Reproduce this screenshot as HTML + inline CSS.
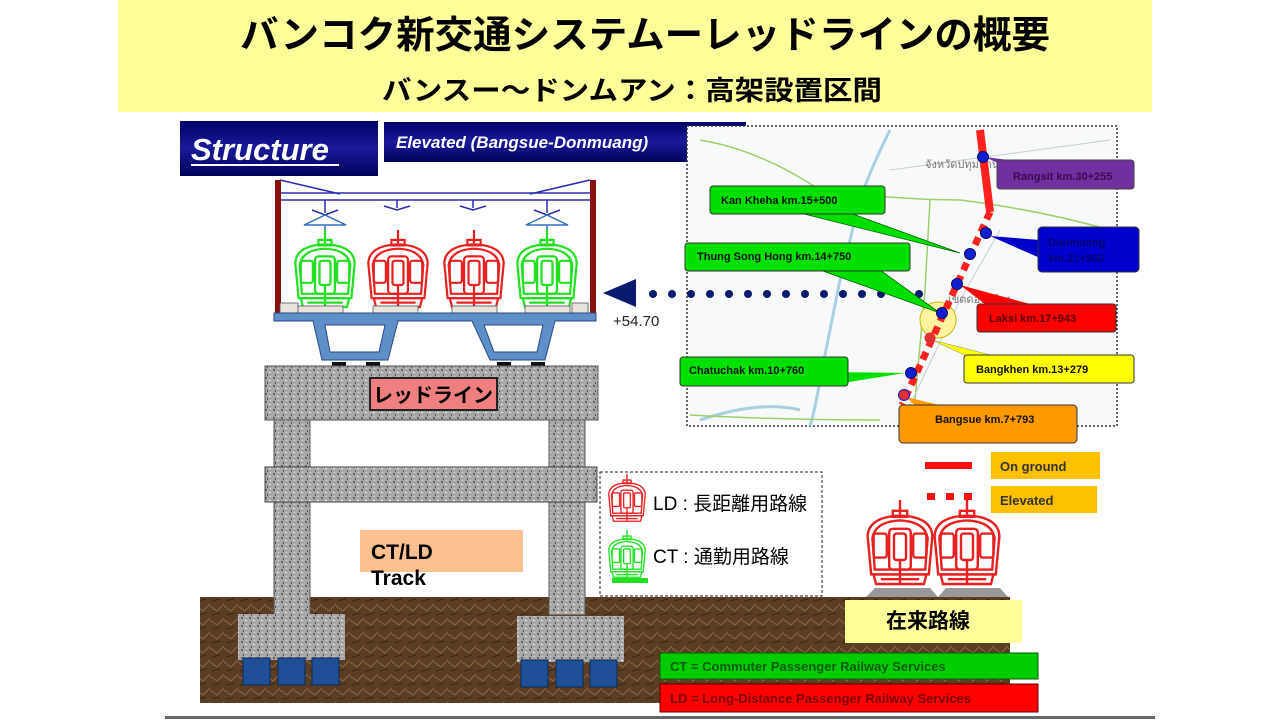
<!DOCTYPE html>
<html><head><meta charset="utf-8"><style>
html,body{margin:0;padding:0;background:#fff;}
svg{display:block;}
text{font-family:"Liberation Sans","Noto Sans CJK JP",sans-serif;}
</style></head><body>
<svg width="1280" height="720" viewBox="0 0 1280 720" xmlns="http://www.w3.org/2000/svg">
<defs>
<symbol id="tr" viewBox="0 0 60 80">
 <g fill="none" stroke-width="2">
  <line x1="30" y1="0" x2="30" y2="12"/>
  <rect x="24" y="9" width="12" height="5"/>
  <path d="M6 62 L3 30 Q4 14 30 13 Q56 14 57 30 L54 62 Z"/>
  <path d="M9 58 L7 32 Q9 18 30 17 Q51 18 53 32 L51 58 Z"/>
  <rect x="8" y="28" width="11" height="20" rx="2"/>
  <rect x="41" y="28" width="11" height="20" rx="2"/>
  <rect x="21" y="24" width="18" height="34" rx="3"/>
  <rect x="25" y="28" width="10" height="22" rx="2"/>
  <line x1="30" y1="50" x2="30" y2="70"/>
  <path d="M8 62 L52 62 L50 70 L10 70 Z"/>
  <line x1="14" y1="66" x2="46" y2="66"/>
 </g>
</symbol>
<pattern id="gran" width="8" height="8" patternUnits="userSpaceOnUse">
 <rect width="8" height="8" fill="#a8a8a8"/>
 <rect x="1" y="1" width="2" height="2" fill="#666"/>
 <rect x="5" y="4" width="2" height="1" fill="#eee"/>
 <rect x="3" y="6" width="1" height="2" fill="#555"/>
 <rect x="6" y="0" width="1" height="1" fill="#ddd"/>
</pattern>
<pattern id="soil" width="14" height="14" patternUnits="userSpaceOnUse">
 <rect width="14" height="14" fill="#5a3d22"/>
 <path d="M0 4 L7 9 L14 2" stroke="#8a6a48" stroke-width="1" fill="none"/>
 <path d="M2 13 L10 11" stroke="#3a2512" stroke-width="1"/>
</pattern>
<linearGradient id="nav" x1="0" y1="0" x2="0" y2="1">
 <stop offset="0" stop-color="#00006a"/><stop offset="0.5" stop-color="#1a1a9a"/><stop offset="1" stop-color="#00005a"/>
</linearGradient>
</defs>

<rect x="118" y="0" width="1034" height="112" fill="#ffff99"/>
<text x="645" y="48" font-size="38" font-weight="bold" text-anchor="middle" textLength="810" lengthAdjust="spacingAndGlyphs">バンコク新交通システムーレッドラインの概要</text>
<text x="632" y="100" font-size="27" font-weight="bold" text-anchor="middle" textLength="500" lengthAdjust="spacingAndGlyphs">バンスー～ドンムアン：高架設置区間</text>

<rect x="180" y="121" width="198" height="55" fill="url(#nav)"/>
<text x="191" y="160" font-size="31" font-weight="bold" font-style="italic" fill="#fff">Structure</text>
<rect x="191" y="164" width="148" height="2" fill="#fff"/>
<rect x="384" y="122" width="362" height="40" fill="url(#nav)"/>
<text x="396" y="148" font-size="17" font-weight="bold" font-style="italic" fill="#fff">Elevated (Bangsue-Donmuang)</text>

<rect x="687" y="126" width="430" height="300" fill="#f8fafa" stroke="#333" stroke-width="1.5" stroke-dasharray="2,2"/>
<g fill="none" stroke="#a9d0e0" stroke-width="3">
 <path d="M890 130 Q870 170 860 200 Q850 240 840 280 Q830 330 820 380 Q815 410 810 426"/>
 <path d="M700 420 Q760 400 800 410"/>
</g>
<g fill="none" stroke="#9ccf6a" stroke-width="1.5">
 <path d="M700 140 Q760 150 820 190 Q900 200 960 200 Q1040 210 1110 230"/>
 <path d="M930 200 L925 290 L915 400"/>
 <path d="M690 415 Q780 420 880 420"/>
</g>
<g stroke="#c8ccd0" stroke-width="1" fill="none">
 <path d="M890 170 L1110 140"/><path d="M900 426 L960 300 L1000 230"/>
</g>
<text x="925" y="168" font-size="11" fill="#777">จังหวัดปทุมธานี</text>
<text x="948" y="303" font-size="11" fill="#777">เขตดอนเมือง</text>
<polygon points="603,293 636,279 636,307" fill="#0a1a6e"/>
<g fill="#0a1a6e">
 <circle cx="653" cy="294" r="4"/><circle cx="672" cy="294" r="4"/><circle cx="691" cy="294" r="4"/><circle cx="710" cy="294" r="4"/><circle cx="729" cy="294" r="4"/><circle cx="748" cy="294" r="4"/><circle cx="767" cy="294" r="4"/><circle cx="786" cy="294" r="4"/><circle cx="805" cy="294" r="4"/><circle cx="824" cy="294" r="4"/><circle cx="843" cy="294" r="4"/><circle cx="862" cy="294" r="4"/><circle cx="881" cy="294" r="4"/><circle cx="900" cy="294" r="4"/><circle cx="919" cy="294" r="4"/>
</g>
<text x="613" y="326" font-size="15" fill="#222">+54.70</text>
<circle cx="938" cy="320" r="18" fill="#fff5a0" stroke="#c8b800" stroke-width="1"/>
<polygon points="800,213 850,213 960,253" fill="#00e000" stroke="#006000" stroke-width="0.8"/>
<polygon points="820,270 880,270 940,313" fill="#00e000" stroke="#006000" stroke-width="0.8"/>
<polygon points="830,372 830,385 905,373" fill="#00e000"/>
<polygon points="1000,164 1040,164 985,157" fill="#7030a0"/>
<polygon points="1040,240 1040,258 990,236" fill="#0000cc"/>
<polygon points="985,304 1030,304 960,285" fill="#ff0000"/>
<polygon points="975,360 1010,360 932,340" fill="#ffff00" stroke="#888" stroke-width="0.5"/>
<polygon points="920,410 960,410 906,397" fill="#ff9900"/>
<line x1="980" y1="130" x2="990" y2="212" stroke="#ff2020" stroke-width="8"/>
<line x1="990" y1="212" x2="902" y2="405" stroke="#ff2020" stroke-width="7" stroke-dasharray="8,6"/>
<g fill="#1020d0" stroke="#0a0a60" stroke-width="1">
 <circle cx="983" cy="157" r="5.5"/><circle cx="986" cy="233" r="5.5"/><circle cx="970" cy="254" r="5.5"/><circle cx="957" cy="284" r="5.5"/><circle cx="942" cy="313" r="5.5"/><circle cx="911" cy="373" r="5.5"/>
</g>
<circle cx="930" cy="338" r="5.5" fill="#e03030"/><circle cx="904" cy="395" r="5.5" fill="#e03030" stroke="#1020d0"/>
<g font-size="11" font-weight="bold">
<rect x="997" y="160" width="137" height="29" rx="3" fill="#7030a0" stroke="#444"/><text x="1013" y="180" fill="#3a0a50">Rangsit km.30+255</text>
<rect x="710" y="186" width="175" height="28" rx="3" fill="#00e000" stroke="#333"/><text x="721" y="204" fill="#111">Kan Kheha km.15+500</text>
<rect x="1038" y="227" width="101" height="45" rx="4" fill="#0000cc" stroke="#333"/><text x="1048" y="246" fill="#00006a">Donmuang</text><text x="1048" y="262" fill="#00006a">km.21+500</text>
<rect x="685" y="243" width="225" height="28" rx="3" fill="#00e000" stroke="#333"/><text x="697" y="260" fill="#111">Thung Song Hong km.14+750</text>
<rect x="977" y="304" width="139" height="28" rx="3" fill="#ff0000" stroke="#333"/><text x="989" y="322" fill="#500">Laksi  km.17+943</text>
<rect x="964" y="355" width="170" height="28" rx="3" fill="#ffff00" stroke="#333"/><text x="976" y="373" fill="#111">Bangkhen km.13+279</text>
<rect x="680" y="357" width="168" height="29" rx="3" fill="#00e000" stroke="#333"/><text x="689" y="374" fill="#111">Chatuchak km.10+760</text>
<rect x="899" y="405" width="178" height="38" rx="4" fill="#ff9900" stroke="#333"/><text x="935" y="423" fill="#111">Bangsue km.7+793</text>
</g>

<rect x="925" y="462" width="47" height="7" fill="#ff1010"/>
<rect x="927" y="493" width="8" height="7" fill="#ff1010"/><rect x="946" y="493" width="8" height="7" fill="#ff1010"/><rect x="964" y="493" width="8" height="7" fill="#ff1010"/>
<rect x="991" y="452" width="109" height="27" fill="#ffc000"/><text x="1000" y="471" font-size="13" font-weight="bold" fill="#333">On ground</text>
<rect x="991" y="486" width="106" height="27" fill="#ffc000"/><text x="1000" y="505" font-size="13" font-weight="bold" fill="#333">Elevated</text>

<rect x="200" y="597" width="810" height="106" fill="url(#soil)"/>

<g stroke="#2a2ab0" stroke-width="1.5" fill="none">
 <line x1="280" y1="193" x2="590" y2="193"/><line x1="280" y1="200" x2="590" y2="200"/>
 <polyline points="280,180 340,194"/><polyline points="590,180 530,194"/>
 <path d="M325 200 V213 M312 210 L325 215 L338 210 M397 200 V208 M384 206 L397 210 L410 206 M473 200 V208 M460 206 L473 210 L486 206 M547 200 V213 M534 210 L547 215 L560 210"/>
</g>
<g stroke="#3070c0" stroke-width="1.5" fill="none">
 <path d="M325 215 L304 225 L346 225 Z M325 225 V240"/>
 <path d="M547 215 L526 225 L568 225 Z M547 225 V240"/>
</g>
<rect x="275" y="180" width="6" height="135" fill="#8a1010"/>
<rect x="590" y="180" width="6" height="140" fill="#8a1010"/>
<use href="#tr" x="291" y="230" width="68" height="88" stroke="#20e020"/>
<use href="#tr" x="364" y="230" width="68" height="88" stroke="#e82020"/>
<use href="#tr" x="440" y="230" width="68" height="88" stroke="#e82020"/>
<use href="#tr" x="513" y="230" width="68" height="88" stroke="#20e020"/>
<g fill="#e8e4dc" stroke="#555" stroke-width="0.8">
 <rect x="280" y="303" width="18" height="10"/><rect x="298" y="306" width="45" height="7"/><rect x="373" y="306" width="45" height="7"/><rect x="452" y="306" width="45" height="7"/><rect x="525" y="306" width="45" height="7"/><rect x="572" y="303" width="16" height="10"/>
</g>
<path d="M274 313 H596 V321 H555 L545 360 H490 L472 321 H398 L388 360 H322 L313 321 H274 Z" fill="#5f8fc8" stroke="#2a4a80" stroke-width="1"/>
<path d="M325 325 L385 325 L379 352 L330 352 Z M484 325 L543 325 L537 352 L494 352 Z" fill="#fff" stroke="#2a4a80"/>
<g fill="#111"><rect x="332" y="362" width="14" height="6"/><rect x="366" y="362" width="14" height="6"/><rect x="497" y="362" width="14" height="6"/><rect x="531" y="362" width="14" height="6"/></g>
<rect x="265" y="366" width="333" height="54" fill="url(#gran)" stroke="#555"/>
<rect x="274" y="420" width="36" height="195" fill="url(#gran)" stroke="#555"/>
<rect x="549" y="420" width="36" height="195" fill="url(#gran)" stroke="#555"/>
<rect x="265" y="467" width="332" height="35" fill="url(#gran)" stroke="#444"/>
<rect x="238" y="614" width="107" height="46" fill="url(#gran)"/>
<rect x="517" y="616" width="107" height="46" fill="url(#gran)"/>
<g fill="#1f4f96" stroke="#0a2a5a">
 <rect x="243" y="658" width="27" height="27"/><rect x="278" y="658" width="27" height="27"/><rect x="312" y="658" width="27" height="27"/>
 <rect x="521" y="660" width="27" height="27"/><rect x="556" y="660" width="27" height="27"/><rect x="590" y="660" width="27" height="27"/>
</g>
<rect x="370" y="378" width="127" height="32" fill="#f08080" stroke="#222" stroke-width="2"/>
<text x="433" y="402" font-size="20" font-weight="bold" text-anchor="middle">レッドライン</text>
<rect x="360" y="530" width="163" height="42" fill="#fac090"/>
<text x="371" y="559" font-size="21" font-weight="bold">CT/LD</text>
<text x="371" y="585" font-size="21" font-weight="bold">Track</text>

<rect x="600" y="472" width="222" height="124" fill="#fff" stroke="#222" stroke-width="1" stroke-dasharray="3,2"/>
<use href="#tr" x="605" y="474" width="44" height="54" stroke="#e82020"/>
<use href="#tr" x="605" y="530" width="44" height="54" stroke="#20e020"/>
<rect x="612" y="578" width="36" height="5" fill="#20e020"/>
<text x="653" y="510" font-size="19">LD : 長距離用路線</text>
<text x="653" y="563" font-size="19">CT : 通勤用路線</text>

<path d="M866 597 L875 588 L930 588 L938 597 L946 588 L1000 588 L1008 597 Z" fill="#999"/>
<use href="#tr" x="864" y="500" width="72" height="96" stroke="#e82020"/>
<use href="#tr" x="931" y="500" width="72" height="96" stroke="#e82020"/>
<rect x="845" y="600" width="177" height="43" fill="#ffff99"/>
<text x="928" y="628" font-size="21" font-weight="bold" text-anchor="middle">在来路線</text>
<rect x="660" y="653" width="378" height="26" fill="#00cc00" stroke="#0a5a0a"/>
<text x="670" y="671" font-size="13" font-weight="bold" fill="#0a5a0a">CT = Commuter Passenger Railway Services</text>
<rect x="660" y="684" width="378" height="28" fill="#ff0000" stroke="#600"/>
<text x="670" y="703" font-size="13" font-weight="bold" fill="#7a0000">LD = Long-Distance Passenger Railway Services</text>
<rect x="165" y="716" width="990" height="3" fill="#666"/>
</svg>
</body></html>
